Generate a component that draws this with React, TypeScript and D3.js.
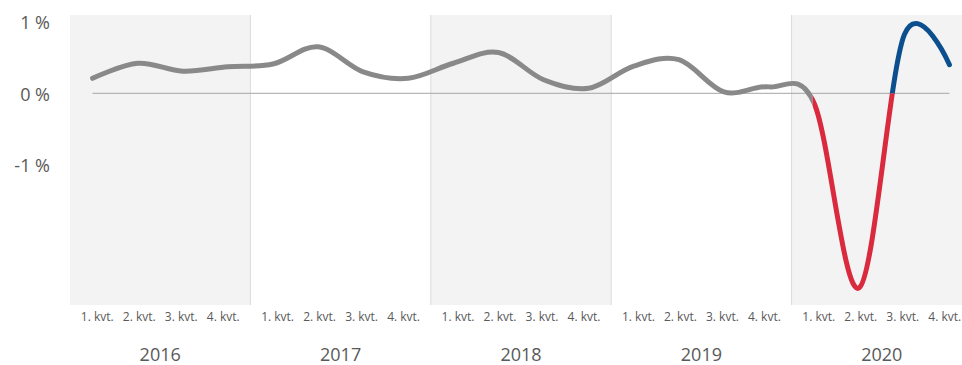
import React from "react";
import * as d3 from "d3";

const years = ["2016", "2017", "2018", "2019", "2020"];
const quarters = ["1. kvt.", "2. kvt.", "3. kvt.", "4. kvt."];
const values = [
  0.21, 0.42, 0.31, 0.37,
  0.41, 0.65, 0.3, 0.21,
  0.42, 0.57, 0.19, 0.07,
  0.38, 0.47, 0.02, 0.09,
  -0.14, -2.72, 0.82, 0.4,
];
const yTicks = [1, 0, -1];
const yTickLabels = ["1 %", "0 %", "-1 %"];
const shadedYears = ["2016", "2018", "2020"];
const highlightStart = 16; // index of 2020 1. kvt.

const W = 962;
const H = 365;
const plotTop = 15;
const plotBottom = 305;
const plotLeft = 70;
const plotRight = 972;
const labelStep = 42;

export default function App() {
  const xYear = d3.scaleBand<string>().domain(years).range([plotLeft, plotRight]);
  const qw = xYear.bandwidth() / 4;
  const xQ = (i: number) => (xYear(years[Math.floor(i / 4)]) as number) + (i % 4 + 0.5) * qw;
  const yearMid = (yr: string) => (xYear(yr) as number) + xYear.bandwidth() / 2;
  const y = d3.scaleLinear().domain([-1, 1]).range([164.8, 21.8]);

  const line = d3
    .line<number>()
    .x((_, i) => xQ(i))
    .y((d) => y(d))
    .curve(d3.curveCardinal.tension(0));
  const path = line(values) || "";
  const xSplit = xQ(highlightStart) - 1.5;
  const y0 = y(0);
  const font = "'Open Sans', 'Segoe UI', sans-serif";

  return (
    <svg width={W} height={H} style={{ position: "absolute", left: 0, top: 0, background: "#fff" }}>
      <defs>
        <clipPath id="cGray">
          <rect x={0} y={0} width={xSplit} height={H} />
        </clipPath>
        <clipPath id="cRed">
          <rect x={xSplit} y={y0} width={W} height={H} />
        </clipPath>
        <clipPath id="cBlue">
          <rect x={xSplit} y={0} width={W} height={y0} />
        </clipPath>
      </defs>
      {shadedYears.map((yr) => (
        <rect
          key={yr}
          x={xYear(yr)}
          y={plotTop}
          width={xYear.bandwidth()}
          height={plotBottom - plotTop}
          fill="#f3f3f3"
        />
      ))}
      {years.slice(1).map((yr) => (
        <line
          key={yr}
          x1={xYear(yr)}
          x2={xYear(yr)}
          y1={plotTop}
          y2={plotBottom}
          stroke="#dadada"
          strokeWidth={1}
        />
      ))}
      <line x1={xQ(0)} x2={xQ(values.length - 1)} y1={y0} y2={y0} stroke="#a6a6a6" strokeWidth={1} />
      {yTicks.map((t, i) => (
        <text
          key={t}
          x={50}
          y={y(t) + 7.5}
          textAnchor="end"
          fontFamily={font}
          fontSize={18}
          fill="#595959"
        >
          {yTickLabels[i]}
        </text>
      ))}
      <path d={path} fill="none" stroke="#898989" strokeWidth={5} strokeLinecap="round" clipPath="url(#cGray)" />
      <path d={path} fill="none" stroke="#d92a3e" strokeWidth={5} strokeLinecap="round" clipPath="url(#cRed)" />
      <path d={path} fill="none" stroke="#0b4f8f" strokeWidth={5} strokeLinecap="round" clipPath="url(#cBlue)" />
      {years.map((yr) =>
        quarters.map((q, qi) => (
          <text
            key={yr + q}
            x={yearMid(yr) + (qi - 1.5) * labelStep}
            y={320.5}
            textAnchor="middle"
            fontFamily={font}
            fontSize={12}
            fill="#595959"
          >
            {q}
          </text>
        ))
      )}
      {years.map((yr) => (
        <text
          key={"y" + yr}
          x={yearMid(yr)}
          y={361}
          textAnchor="middle"
          fontFamily={font}
          fontSize={18}
          fill="#595959"
        >
          {yr}
        </text>
      ))}
    </svg>
  );
}
